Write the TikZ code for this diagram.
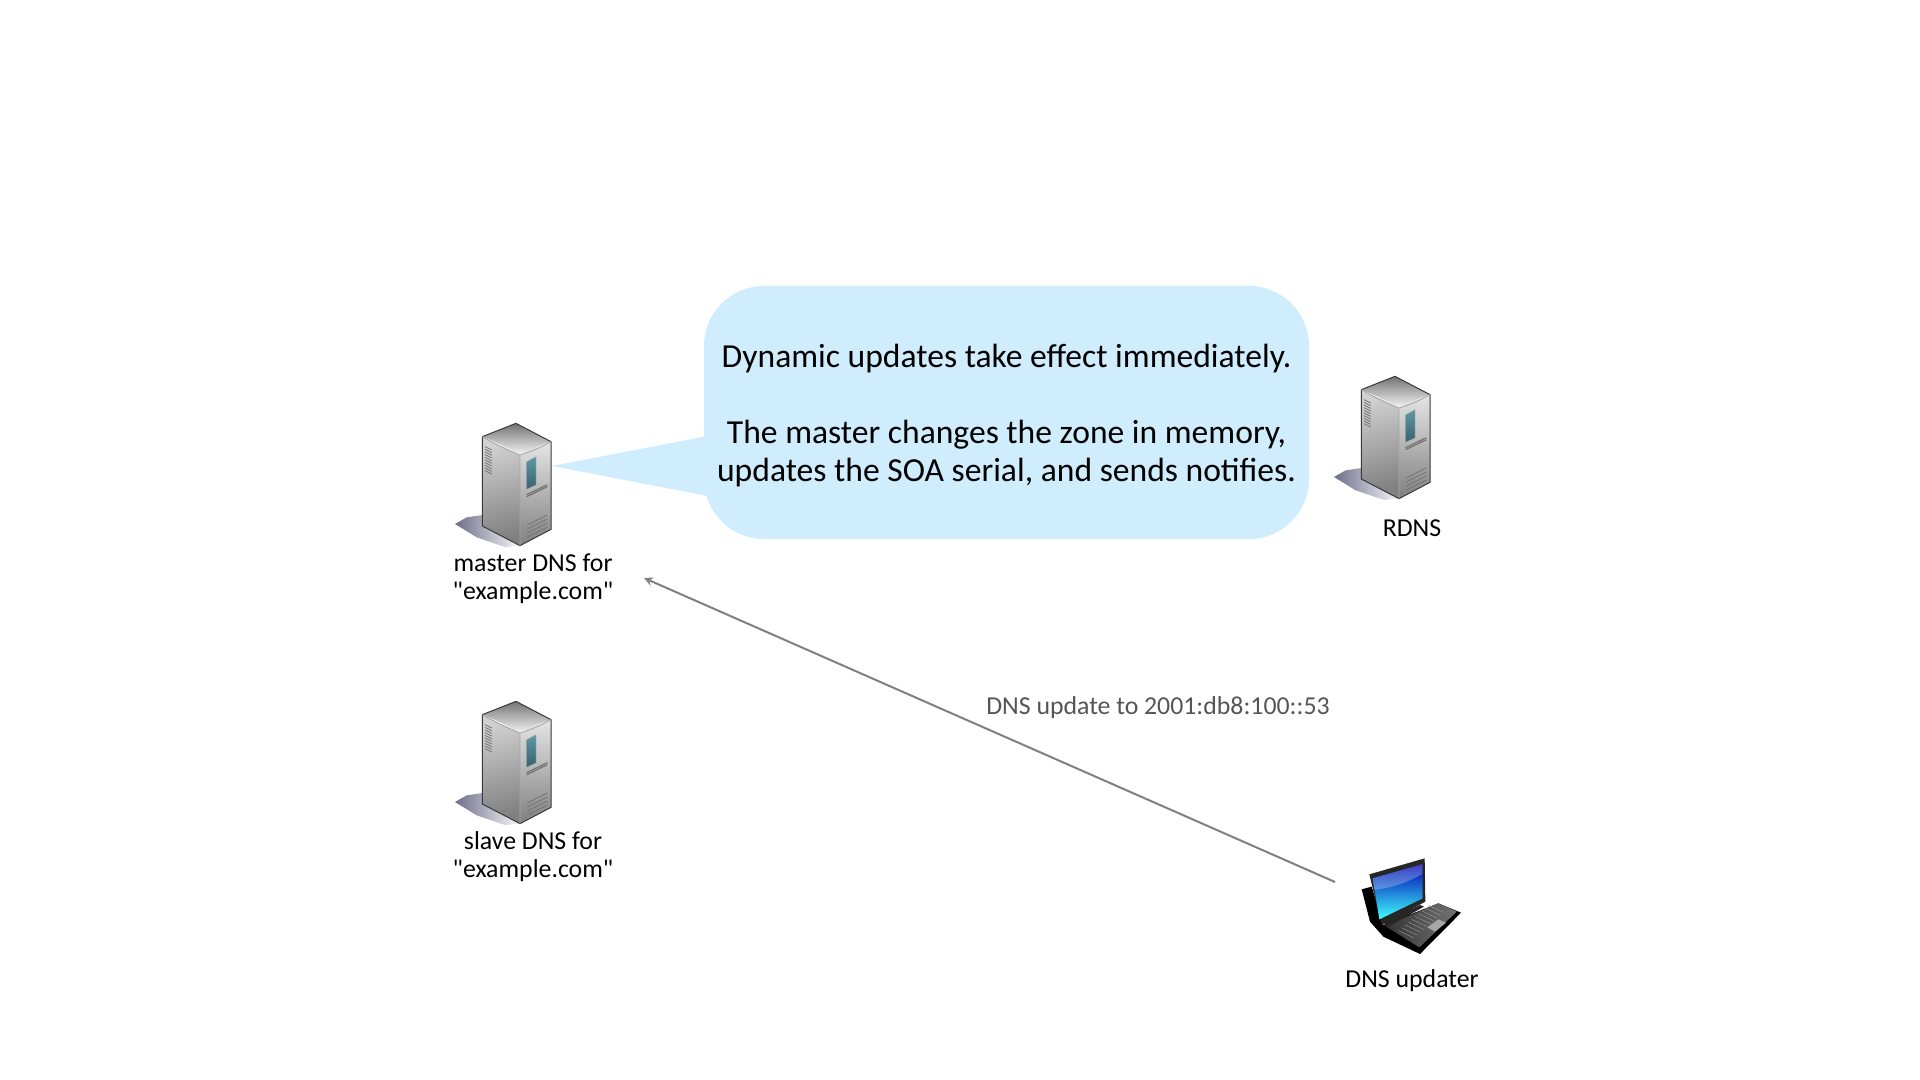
\documentclass[tikz,border=0pt]{standalone}
\usepackage{fontspec}
\setmainfont{Carlito}[Ligatures=TeXOff]
\usepackage{tikz}
\usetikzlibrary{arrows, positioning, calc}
\definecolor{calloutblue}{HTML}{CFEDFC}
\definecolor{serveredge}{HTML}{3A3A3A}
\definecolor{shadowblue}{HTML}{5E5E7E}
\definecolor{labelgray}{HTML}{555555}
\definecolor{arrowgray}{HTML}{808084}
\definecolor{windowteal}{HTML}{4E8C9C}
\begin{document}
\begin{tikzpicture}[
    x=0.5pt, y=-0.5pt,
    every node/.style={font=\fontsize{12.9}{14}\selectfont, align=center, text=black},
    callout/.style={rectangle, rounded corners=30pt, fill=calloutblue, minimum width=302.5pt, minimum height=126.5pt, inner sep=0pt, font=\fontsize{16.8}{19}\selectfont},
    arrow/.style={->, >=stealth, line width=1pt, draw=arrowgray},
    vent/.style={line width=0.4pt, draw=black!55},
    pics/server/.style={code={
        % zoom-grid units, 3 per pixel
        \shade[left color=shadowblue!90, right color=shadowblue!5] (45,372) -- (80,352) -- (127,345) -- (127,378) -- (240,437) -- (195,441) -- (110,412) -- cycle;
        \shade[left color=black!18, right color=black!50, shading angle=15] (127,110) -- (240,165) -- (240,437) -- (127,378) -- cycle;
        \shade[top color=black!10, bottom color=black!50] (240,165) to[bend left=6] (333,125) -- (333,388) -- (240,437) -- cycle;
        \shade[top color=black!55, bottom color=black!4] (127,110) -- (228,70) -- (333,125) to[bend right=6] (240,165) to[bend right=4] cycle;
        \draw[serveredge, line width=0.5pt, line join=round] (127,110) -- (228,70) -- (333,125) -- (333,388) -- (240,437) -- (127,378) -- cycle;
        \draw[black!35, line width=0.4pt] (127,110) to[bend right=4] (240,165) to[bend right=6] (333,125) (240,165) -- (240,437);
        \shade[top color=windowteal!90, bottom color=windowteal!70!black, draw=black!30, line width=0.2pt] (260,185) -- (288,170) -- (288,255) -- (260,268) -- cycle;
        \foreach \vy in {140,148,...,212} {\draw[vent] (135,\vy) -- (155,\vy+10);}
        \foreach \vy in {284,290} {\draw[vent, line width=0.6pt] (260,\vy) -- (322,\vy-30);}
        \foreach \vy in {375,387,399,411} {\draw[vent] (262,\vy) -- (322,\vy-30);}
    }},
    pics/laptop/.style={code={
        \fill[black] (125,148) -- (155,140) -- (190,255) -- (355,190) -- (423,218) -- (300,342) -- (190,290) -- (150,245) -- cycle;
        \fill[black!85] (148,103) -- (314,55) -- (316,185) -- (185,255) -- cycle;
        \shade[top color=blue!70!black, bottom color=cyan!75!white] (158,115) -- (308,72) -- (308,175) -- (178,238) -- cycle;
        \fill[white, opacity=0.25] (163,150) to[bend right=10] (307,102) -- (308,72) -- (158,115) -- cycle;
        \shade[left color=black!80, right color=black!55] (195,258) -- (355,190) -- (410,215) -- (298,322) -- cycle;
        \fill[black!85] (190,245) -- (300,195) -- (312,200) -- (200,262) -- cycle;
        \foreach \kx in {0,10,...,90} {\draw[black!40, line width=0.2pt] (235+\kx,272-0.85*\kx) -- (282+\kx,294-0.85*\kx);}
        \fill[black!35] (322,262) -- (355,238) -- (378,248) -- (345,275) -- cycle;
    }}
]
\useasboundingbox (0,0) rectangle (1920,1080);
% --- Servers ---
\pic (master) at (440,400) [scale=1/3] {server};
\pic (slave) at (440,678) [scale=1/3] {server};
\pic (rdns) at (1319,353) [scale=1/3] {server};
\pic (updater) at (1320,840) [scale=1/3] {laptop};

% --- Labels ---
\node (masterlabel) at (533,579) {master DNS for\\"example.com"};
\node (slavelabel) at (533,857) {slave DNS for\\"example.com"};
\node (rdnslabel) at (1412,528) {RDNS};
\node (updaterlabel) at (1412,981) {DNS updater};

% --- Callout ---
\coordinate (calloutTip) at (552,466);
\node[callout] (note) at (1006.5,412.5) {\rule{0pt}{14.5pt}Dynamic updates take effect immediately.\\[19pt]The master changes the zone in memory,\\updates the SOA serial, and sends notifies.};
\fill[calloutblue] (calloutTip) -- ([xshift=6pt,yshift=-11pt]note.west) -- ([xshift=6pt,yshift=-42.5pt]note.west) -- cycle;

% --- Update arrow ---
\coordinate (updateStart) at (1335,882);
\coordinate (updateEnd) at (644,578);
\draw[arrow] (updateStart) -- (updateEnd);
\node[text=labelgray] (updatelabel) at (1158,708) {DNS update to 2001:db8:100::53};
\end{tikzpicture}
\end{document}
